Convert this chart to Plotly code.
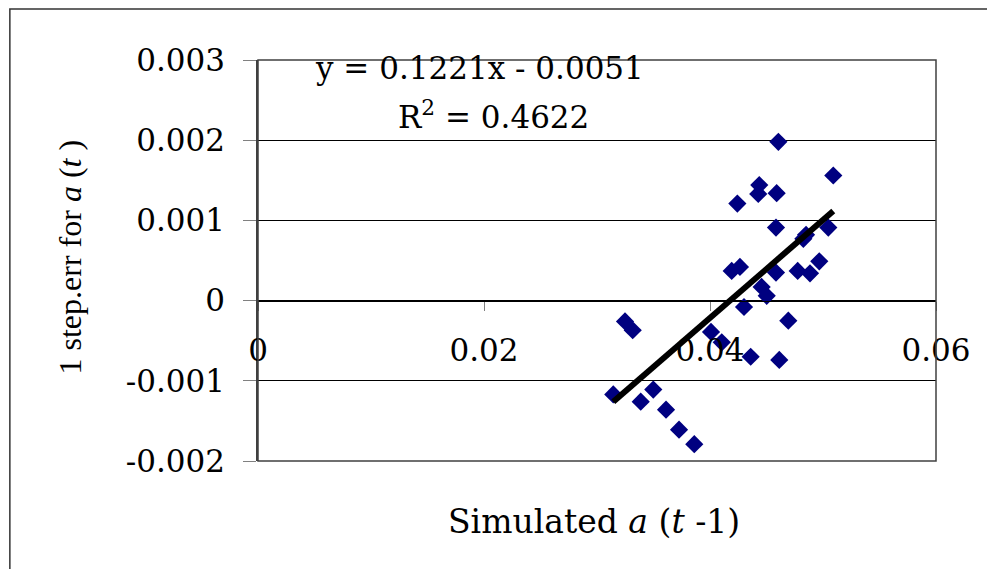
import plotly.graph_objects as go

# ---- data ----
sim_a_prev = [0.04605, 0.05091, 0.04436, 0.04427, 0.04590, 0.04242, 0.04584, 0.05047,
              0.04850, 0.04826, 0.04192, 0.04265, 0.04584, 0.04776, 0.04885, 0.04967,
              0.04457, 0.04502, 0.04301, 0.04693, 0.03248, 0.03316, 0.04009, 0.04104,
              0.04360, 0.04613, 0.03144, 0.03498, 0.03387, 0.03611, 0.03726, 0.03861]
step_err = [0.00198, 0.00156, 0.00144, 0.00133, 0.00134, 0.00121, 0.00091, 0.00091,
            0.00082, 0.00077, 0.00037, 0.00042, 0.00035, 0.00037, 0.00034, 0.00049,
            0.00017, 0.00006, -0.00008, -0.00025, -0.00026, -0.00037, -0.00039, -0.00052,
            -0.00070, -0.00074, -0.00117, -0.00111, -0.00126, -0.00136, -0.00161, -0.00179]

trend_slope = 0.1221
trend_intercept = -0.0051
eq_text = "y = 0.1221x - 0.0051"
r2_text = "R<sup>2</sup> = 0.4622"

x_tickvals = [0, 0.02, 0.04, 0.06]
x_ticktext = ["0", "0.02", "0.04", "0.06"]
y_tickvals = [-0.002, -0.001, 0, 0.001, 0.002, 0.003]
y_ticktext = ["-0.002", "-0.001", "0", "0.001", "0.002", "0.003"]

FONT = "DejaVu Serif, Liberation Serif, serif"
FONT_T = "Liberation Serif, Times New Roman, serif"
FS = 31

trend_x = [min(sim_a_prev), max(sim_a_prev)]
trend_y = [trend_slope * v + trend_intercept for v in trend_x]

fig = go.Figure()
fig.add_trace(go.Scatter(
    x=sim_a_prev, y=step_err, mode="markers",
    marker=dict(symbol="diamond", size=14, color="#000080", line=dict(width=0)),
    showlegend=False, hoverinfo="x+y"))
fig.add_trace(go.Scatter(
    x=trend_x, y=trend_y, mode="lines",
    line=dict(color="black", width=6), showlegend=False))

fig.update_layout(
    width=987, height=561,
    margin=dict(l=250, r=59, t=52, b=108),
    paper_bgcolor="white", plot_bgcolor="white",
    font=dict(family=FONT, size=FS, color="black"),
    xaxis=dict(range=[0, 0.06], tickvals=x_tickvals, ticktext=x_ticktext,
               anchor="free", position=0.4, showgrid=False, zeroline=False,
               showline=True, linecolor="black", linewidth=1,
               ticks="outside", ticklen=9, tickcolor="#808080", tickwidth=1,
               ticklabelstandoff=13,
               tickfont=dict(family=FONT, size=FS)),
    yaxis=dict(range=[-0.002, 0.003], tickvals=y_tickvals, ticktext=y_ticktext,
               showgrid=True, gridcolor="black", gridwidth=1, zeroline=False,
               showline=True, linecolor="#404040", linewidth=1.5,
               ticks="outside", ticklen=13, tickcolor="#808080", tickwidth=1,
               ticklabelstandoff=12,
               tickfont=dict(family=FONT, size=FS)),
    shapes=[
        # plot area border
        dict(type="rect", xref="paper", yref="paper", x0=0, x1=1, y0=0, y1=1,
             line=dict(color="#404040", width=1.5), layer="above"),
        # chart area border (extends beyond the visible window on right/bottom)
        dict(type="rect", xref="paper", yref="paper", x0=-0.366, x1=1.2, y0=-0.3, y1=1.127,
             line=dict(color="#333333", width=1.5)),
    ],
    annotations=[
        dict(text=eq_text, xref="paper", yref="paper", x=0.3274, y=0.980,
             xanchor="center", yanchor="middle",
             showarrow=False, font=dict(family=FONT, size=FS)),
        dict(text=r2_text, xref="paper", yref="paper", x=0.348, y=0.863,
             xanchor="center", yanchor="middle",
             showarrow=False, font=dict(family=FONT, size=FS)),
        dict(text="Simulated <i>a</i> (<i>t</i> -1)", xref="paper", yref="paper",
             x=0.4956, y=-0.152, xanchor="center", yanchor="middle",
             showarrow=False, font=dict(family=FONT, size=33)),
        dict(text="1 step.err for <i>a</i> (<i>t</i> )", xref="paper", yref="paper",
             x=-0.277, y=0.508, xanchor="center", yanchor="middle", textangle=-90,
             showarrow=False, font=dict(family=FONT_T, size=32)),
    ],
)

fig.write_html("out.html")
